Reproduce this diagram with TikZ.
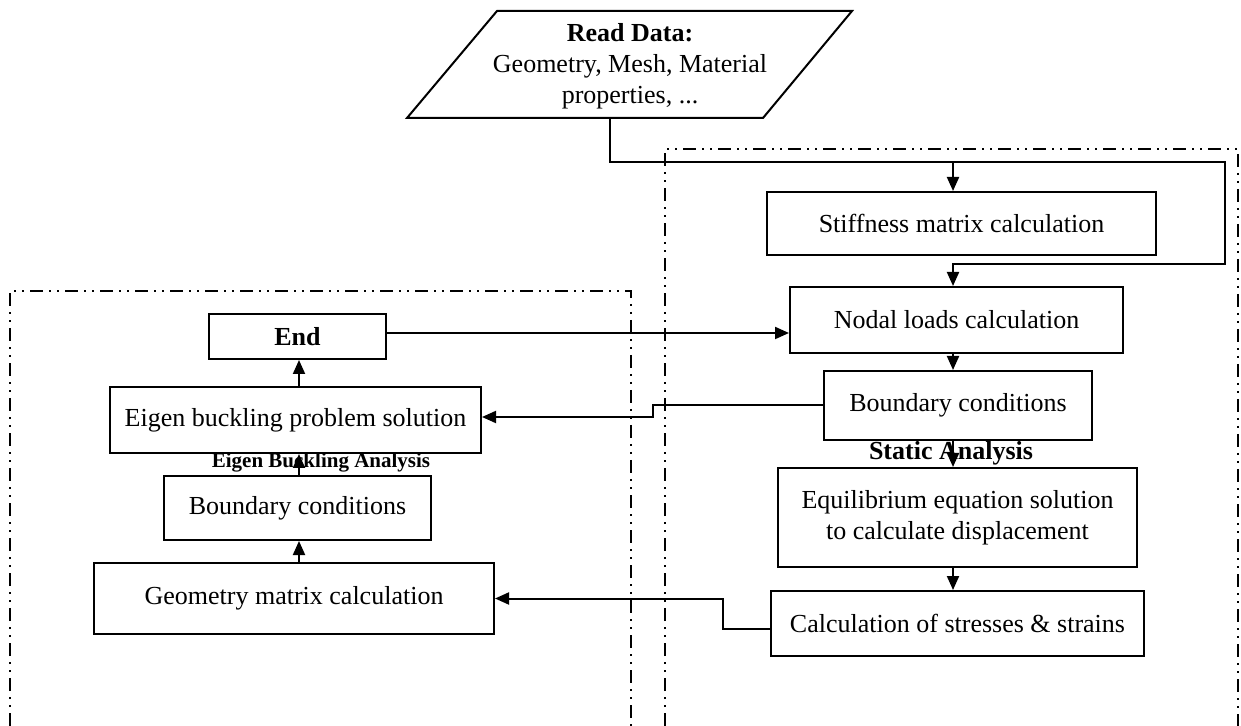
\documentclass[tikz,border=0pt]{standalone}
\usepackage{fontspec}
\setmainfont{Liberation Serif}
\usetikzlibrary{arrows.meta}
\begin{document}
\begin{tikzpicture}[x=0.5pt,y=-0.5pt,>={Triangle[length=7pt,width=6pt]},
  font=\fontsize{13}{15.5}\selectfont,
  box/.style={draw,line width=1pt,align=center,inner sep=0pt},
  flow/.style={->,line width=1pt},
  frame/.style={line width=0.85pt,dash pattern=on 6.5pt off 3pt on 1pt off 3pt on 1pt off 3pt},
  tag/.style={font=\fontsize{13}{15}\selectfont\bfseries}]
  \useasboundingbox (0,0) rectangle (1241,726);
  % frames
  \draw[frame] (10,726) -- (10,291) -- (631,291) -- (631,726);
  \draw[frame] (665,726) -- (665,149) -- (1238,149) -- (1238,726);
  \coordinate (col) at (953,0);
  \coordinate (lcol) at (299,0);
  % input data
  \draw[line width=1pt] (407,118) -- (497,11) -- (852,11) -- (763,118) -- cycle;
  \node[align=center] (read) at (630,66) {\textbf{Read Data:}\\Geometry, Mesh, Material\\properties, ...};
  \coordinate (readout) at (610,118);
  \coordinate (split) at (953,162);
  % static analysis
  \node[box,minimum width=194.5pt,minimum height=31.5pt] (stiff) at (961.5,223.5) {Stiffness matrix calculation};
  \node[box,minimum width=166.5pt,minimum height=33pt] (nodal) at (956.5,320) {Nodal loads calculation};
  \node[box,minimum width=134pt,minimum height=34.5pt] (bcsr) at (958,405.5) {Boundary conditions};
  \node[box,minimum width=179.5pt,minimum height=49.5pt] (equil) at (957.5,517.5) {Equilibrium equation solution\\to calculate displacement};
  \node[box,minimum width=186.5pt,minimum height=32.5pt] (stress) at (957.5,623.5) {Calculation of stresses \& strains};
  \node[tag] (stat) at (951,453) {Static Analysis};
  % eigen buckling analysis
  \node[box,minimum width=88.5pt,minimum height=22.5pt,font=\fontsize{13}{15.5}\selectfont\bfseries] (endb) at (297.5,336.5) {End};
  \node[box,minimum width=185.5pt,minimum height=33pt] (eigen) at (295.5,420) {Eigen buckling problem solution};
  \node[box,minimum width=133.5pt,minimum height=32pt] (bcl) at (297.5,508) {Boundary conditions};
  \node[box,minimum width=200pt,minimum height=35.5pt] (geom) at (294,598.5) {Geometry matrix calculation};
  \node[tag,font=\fontsize{10.5}{12}\selectfont\bfseries] (eba) at (321,463) {Eigen Buckling Analysis};
  % connectors
  \draw[flow] (readout) |- (1225,162) -- (1225,264) -| (nodal.north -| col);
  \draw[flow] (split) -- (stiff.north -| col);
  \draw[flow] (nodal.south -| col) -- (bcsr.north -| col);
  \draw[flow] (bcsr.south -| col) -- (equil.north -| col);
  \draw[flow] (equil.south -| col) -- (stress.north -| col);
  \draw[flow] ([yshift=-2.75pt]stress.west) -| (723,598.5) -- (geom.east);
  \draw[flow] (bcsr.west) -| (653,417) -- ([yshift=1.5pt]eigen.east);
  \draw[flow] ([yshift=1.75pt]endb.east) -- ([yshift=-6.5pt]nodal.west);
  \draw[flow] (geom.north -| lcol) -- (bcl.south -| lcol);
  \draw[flow] (bcl.north -| lcol) -- (eigen.south -| lcol);
  \draw[flow] (eigen.north -| lcol) -- (endb.south -| lcol);
\end{tikzpicture}
\end{document}
